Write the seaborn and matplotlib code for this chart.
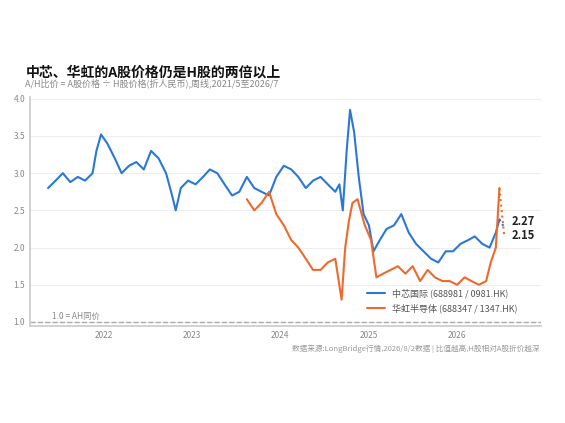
import matplotlib
matplotlib.use("Agg")
import matplotlib.pyplot as plt
import seaborn as sns
import pandas as pd

smic_dates = ["2021-05-15","2021-06-15","2021-07-15","2021-08-15","2021-09-15","2021-10-15","2021-11-15","2021-12-01","2021-12-20",
 "2022-01-15","2022-02-15","2022-03-15","2022-04-15","2022-05-15","2022-06-15","2022-07-15","2022-08-15","2022-09-15","2022-10-10","2022-10-25",
 "2022-11-15","2022-12-15","2023-01-15","2023-02-15","2023-03-15","2023-04-15","2023-05-15","2023-06-15","2023-07-15","2023-08-15",
 "2023-09-15","2023-10-15","2023-11-15","2023-12-15","2024-01-15","2024-02-15","2024-03-15","2024-04-15","2024-05-15","2024-06-15",
 "2024-07-15","2024-08-15","2024-09-01","2024-09-15","2024-10-01","2024-10-15","2024-11-01","2024-11-20","2024-12-10","2025-01-01",
 "2025-01-20","2025-02-15","2025-03-15","2025-04-15","2025-05-15","2025-06-15","2025-07-15","2025-08-15","2025-09-15","2025-10-15",
 "2025-11-15","2025-12-15","2026-01-15","2026-02-15","2026-03-15","2026-04-15","2026-05-15","2026-06-10","2026-06-25","2026-07-15"]
smic_vals = [2.8,2.9,3.0,2.88,2.95,2.9,3.0,3.3,3.52,
 3.4,3.2,3.0,3.1,3.15,3.05,3.3,3.2,3.0,2.7,2.5,
 2.8,2.9,2.85,2.95,3.05,3.0,2.85,2.7,2.75,2.95,
 2.8,2.75,2.7,2.95,3.1,3.05,2.95,2.8,2.9,2.95,
 2.85,2.75,2.85,2.5,3.3,3.85,3.55,2.95,2.45,2.3,
 1.95,2.1,2.25,2.3,2.45,2.2,2.05,1.95,1.85,1.8,
 1.95,1.95,2.05,2.1,2.15,2.05,2.0,2.2,2.38,2.27]

hh_dates = ["2023-08-15","2023-09-15","2023-10-15","2023-11-15","2023-12-15","2024-01-15","2024-02-15","2024-03-15","2024-04-15","2024-05-15",
 "2024-06-15","2024-07-15","2024-08-15","2024-09-10","2024-09-25","2024-10-10","2024-10-25","2024-11-15","2024-12-15","2025-01-10",
 "2025-02-01","2025-03-01","2025-04-01","2025-05-01","2025-06-01","2025-07-01","2025-08-01","2025-09-01","2025-10-01","2025-11-01",
 "2025-12-01","2026-01-01","2026-02-01","2026-03-01","2026-04-01","2026-05-01","2026-05-20","2026-06-10","2026-06-25","2026-07-15"]
hh_vals = [2.65,2.5,2.6,2.75,2.45,2.3,2.1,2.0,1.85,1.7,
 1.7,1.8,1.85,1.3,2.0,2.35,2.6,2.65,2.3,2.1,
 1.6,1.65,1.7,1.75,1.65,1.75,1.55,1.7,1.6,1.55,
 1.55,1.5,1.6,1.55,1.5,1.55,1.8,2.0,2.8,2.15]

smic = pd.DataFrame({"date": pd.to_datetime(smic_dates), "v": smic_vals})
hh = pd.DataFrame({"date": pd.to_datetime(hh_dates), "v": hh_vals})

sns.set_theme(style="white")
plt.rcParams['font.family'] = ['Noto Sans CJK SC', 'DejaVu Sans']
blue, orange = "#2a78d6", "#ee6a2c"

fig = plt.figure(figsize=(5.65, 4.23), dpi=100)
ax = fig.add_axes([0.053, 0.23, 0.905, 0.54])
sns.lineplot(data=smic.iloc[:-1], x="date", y="v", ax=ax, color=blue, lw=1.5, label="中芯国际 (688981 / 0981.HK)")
sns.lineplot(data=hh.iloc[:-1], x="date", y="v", ax=ax, color=orange, lw=1.5, label="华虹半导体 (688347 / 1347.HK)")
sns.lineplot(data=smic.iloc[-2:], x="date", y="v", ax=ax, color=blue, lw=1.5, ls=":")
sns.lineplot(data=hh.iloc[-2:], x="date", y="v", ax=ax, color=orange, lw=1.5, ls=":")
ax.axhline(1.0, color="#aaaaaa", ls="--", lw=1)
ax.text(pd.Timestamp("2021-06-01"), 1.04, "1.0 = AH同价", fontsize=6, color="#888888")
ax.text(pd.Timestamp("2026-08-15"), 2.3, "2.27", fontsize=8, fontweight="bold", color="#222222")
ax.text(pd.Timestamp("2026-08-15"), 2.12, "2.15", fontsize=8, fontweight="bold", color="#222222")
ax.set_ylim(0.95, 4.02)
ax.set_xlim(pd.Timestamp("2021-03-01"), pd.Timestamp("2026-12-15"))
ax.set_yticks([1.0,1.5,2.0,2.5,3.0,3.5,4.0])
ax.set_xticks(pd.to_datetime(["2022-01-01","2023-01-01","2024-01-01","2025-01-01","2026-01-01"]))
ax.set_xticklabels(["2022","2023","2024","2025","2026"])
ax.tick_params(labelsize=6, colors="#888888", length=0)
ax.grid(axis="y", color="#eeeeee", lw=0.8)
for s in ["top","right"]:
    ax.spines[s].set_visible(False)
ax.spines["left"].set_color("#cccccc")
ax.spines["bottom"].set_color("#cccccc")
ax.set_xlabel(""); ax.set_ylabel("")
ax.legend(loc="lower right", bbox_to_anchor=(0.97, 0.02), frameon=False, fontsize=6.5, labelcolor="#555555")
fig.text(0.045, 0.82, "中芯、华虹的A股价格仍是H股的两倍以上", fontsize=10, fontweight="bold", color="#111111")
fig.text(0.045, 0.795, "A/H比价 = A股价格 ÷ H股价格(折人民币),周线,2021/5至2026/7", fontsize=6.5, color="#888888")
fig.text(0.955, 0.17, "数据来源:LongBridge行情,2026/8/2数据 | 比值越高,H股相对A股折价越深", fontsize=5.5, color="#999999", ha="right")
fig.savefig("out.png", dpi=100)
